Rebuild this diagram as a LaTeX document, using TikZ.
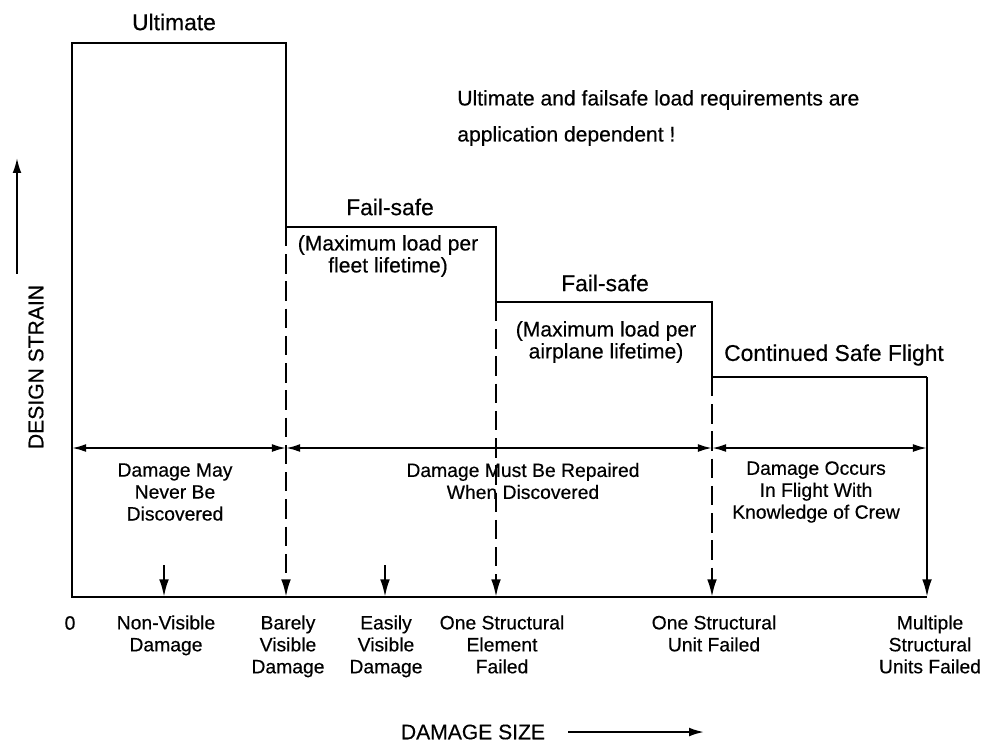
\documentclass[tikz,border=0pt]{standalone}
\usepackage{fontspec}
\setmainfont{Liberation Sans}[FakeBold=0.4]
\usetikzlibrary{arrows.meta}

\begin{document}
\begin{tikzpicture}[
    x=0.02cm, y=-0.02cm,
    every node/.style={font=\fontsize{11}{12.5}\selectfont, inner sep=0pt},
    titlelbl/.style={font=\fontsize{13}{15}\selectfont},
    notelbl/.style={font=\fontsize{12}{12.5}\selectfont, align=center},
    zonelbl/.style={align=center},
    axislbl/.style={font=\fontsize{12}{14}\selectfont},
    stepline/.style={line width=1.6pt},
    dashdrop/.style={line width=1.3pt, dash pattern=on 11pt off 4.5pt,
                     -{Latex[length=10pt,width=5.5pt]}},
    tickarr/.style={line width=1.3pt, -{Latex[length=10pt,width=5.5pt]}},
    spanarr/.style={line width=1.1pt,
                    {Latex[length=8pt,width=4.5pt]}-{Latex[length=8pt,width=4.5pt]}},
    axisarr/.style={line width=1.1pt, -{Latex[length=8.5pt,width=5pt]}},
]
\useasboundingbox (0,0) rectangle (993,745);

%% ── Key points of the strain envelope ───────────────────────────────────────
\coordinate (orig) at (72,597);
\coordinate (ult1) at (72,43);
\coordinate (ult2) at (286,43);
\coordinate (fsa1) at (286,227);
\coordinate (fsa2) at (496,227);
\coordinate (fsb1) at (496,302);
\coordinate (fsb2) at (712,302);
\coordinate (csf1) at (712,377);
\coordinate (csf2) at (927,377);
\coordinate (fin)  at (927,597);

%% ── Envelope and base line ──────────────────────────────────────────────────
\draw[stepline] (fin) -- (orig) -- (ult1) -- (ult2) -- (fsa1) -- (fsa2)
  -- (fsb1) -- (fsb2) -- (csf1) -- (csf2);
\draw[stepline, tickarr] (csf2) -- (fin);

%% ── Dashed drops to the damage axis ─────────────────────────────────────────
\draw[dashdrop] (fsa1) -- (fsa1 |- orig);
\draw[dashdrop] (fsb1) -- (fsb1 |- orig);
\draw[dashdrop] (csf1) -- (csf1 |- orig);

%% ── Short markers ───────────────────────────────────────────────────────────
\coordinate (nonvis) at (164,565);
\coordinate (easvis) at (385,565);
\draw[tickarr] (nonvis) -- (nonvis |- orig);
\draw[tickarr] (easvis) -- (easvis |- orig);

%% ── Spans ───────────────────────────────────────────────────────────────────
\coordinate (span0) at (72,448);
\draw[spanarr] (span0) -- (span0 -| fsa1);
\draw[spanarr] (span0 -| fsa1) -- (span0 -| csf1);
\draw[spanarr] (span0 -| csf1) -- (span0 -| fin);

%% ── Load levels ─────────────────────────────────────────────────────────────
\node[titlelbl] (ultlbl) at (174,22) {Ultimate};
\node[titlelbl] (fsalbl) at (390,207) {Fail-safe};
\node[notelbl]  (fsanote) at (388,256) {(Maximum load per\\fleet lifetime)};
\node[titlelbl] (fsblbl) at (605,283) {Fail-safe};
\node[notelbl]  (fsbnote) at (606,342) {(Maximum load per\\airplane lifetime)};
\node[titlelbl] (csflbl) at (834,355) {Continued Safe Flight};

\node[notelbl, align=left, anchor=west] (remark) at (457,118)
  {Ultimate and failsafe load requirements are\\[8pt]
   application dependent !};

%% ── Damage zones ────────────────────────────────────────────────────────────
\node[zonelbl] (zone1) at (175,492) {Damage May\\Never Be\\Discovered};
\node[zonelbl] (zone2) at (523,481) {Damage Must Be Repaired\\When Discovered};
\node[zonelbl] (zone3) at (816,492) {Damage Occurs\\In Flight With\\Knowledge of Crew};

%% ── Damage sizes ────────────────────────────────────────────────────────────
\node (zero) at (70,623) {0};
\node[zonelbl, anchor=north] (dmg1) at (166,615) {Non-Visible\\Damage};
\node[zonelbl, anchor=north] (dmg2) at (288,615) {Barely\\Visible\\Damage};
\node[zonelbl, anchor=north] (dmg3) at (386,615) {Easily\\Visible\\Damage};
\node[zonelbl, anchor=north] (dmg4) at (502,615) {One Structural\\Element\\Failed};
\node[zonelbl, anchor=north] (dmg5) at (714,615) {One Structural\\Unit Failed};
\node[zonelbl, anchor=north] (dmg6) at (930,615) {Multiple\\Structural\\Units Failed};

%% ── Axes ────────────────────────────────────────────────────────────────────
\node[axislbl, rotate=90] (ylbl) at (36,367) {DESIGN STRAIN};
\coordinate (ytip) at (17,158);
\draw[axisarr] (ylbl.east -| ytip) ++(0,-11) -- (ytip);

\node[axislbl] (xlbl) at (473,732) {DAMAGE SIZE};
\coordinate (xtip) at (704,732);
\draw[axisarr] (xlbl.east) ++(23,0) -- (xtip);

\end{tikzpicture}
\end{document}
